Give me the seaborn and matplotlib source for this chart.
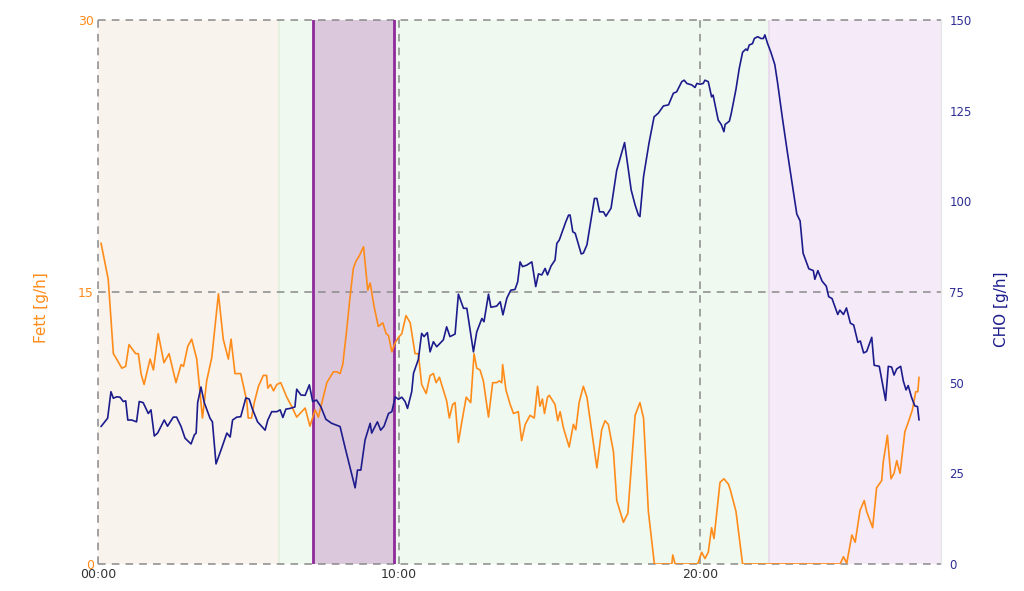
import matplotlib
matplotlib.use("Agg")
import matplotlib.pyplot as plt
import seaborn as sns

# time in hours since 00:00
fett_time = [0.1, 0.34, 0.51, 0.62, 0.79, 0.92, 1.03, 1.25, 1.34, 1.43, 1.53, 1.73, 1.84, 2.0,
             2.19, 2.36, 2.59, 2.76, 2.84, 2.98, 3.11, 3.28, 3.47, 3.61, 3.78, 4.0, 4.16, 4.33,
             4.42, 4.55, 4.74, 4.94, 4.99, 5.1, 5.19, 5.33, 5.49, 5.6, 5.64, 5.73, 5.83, 5.94,
             6.07, 6.27, 6.43, 6.6, 6.71, 6.88, 7.04, 7.21, 7.32, 7.6, 7.82, 7.93, 8.04, 8.13,
             8.26, 8.37, 8.48, 8.57, 8.68, 8.82, 8.96, 9.04, 9.17, 9.31, 9.46, 9.57, 9.65, 9.76,
             9.87, 9.98, 10.09, 10.23, 10.37, 10.53, 10.64, 10.75, 10.9, 11.03, 11.14, 11.23,
             11.34, 11.58, 11.67, 11.78, 11.86, 11.97, 12.08, 12.23, 12.38, 12.49, 12.58, 12.69,
             12.8, 12.97, 13.11, 13.24, 13.33, 13.41, 13.44, 13.55, 13.69, 13.8, 13.96, 14.07,
             14.19, 14.35, 14.49, 14.6, 14.68, 14.76, 14.83, 14.93, 14.99, 15.18, 15.27, 15.35,
             15.46, 15.65, 15.79, 15.87, 15.98, 16.12, 16.24, 16.57, 16.73, 16.84, 16.95, 17.12,
             17.23, 17.45, 17.6, 17.84, 18.0, 18.12, 18.28, 18.48, 19.06, 19.09, 19.17, 19.92,
             20.05, 20.16, 20.27, 20.38, 20.46, 20.66, 20.79, 20.94, 21.0, 21.19, 21.41, 24.65,
             24.76, 24.87, 25.04, 25.15, 25.31, 25.45, 25.53, 25.73, 25.86, 26.03, 26.08, 26.22,
             26.34, 26.44, 26.53, 26.64, 26.8, 26.91, 27.05, 27.16, 27.23, 27.27]
fett = [17.7, 15.7, 11.6, 11.3, 10.8, 10.9, 12.1, 11.6, 11.6, 10.5, 9.9, 11.3, 10.7, 12.7,
        11.1, 11.6, 10.0, 11.0, 10.9, 12.0, 12.4, 11.3, 8.05, 10.1, 11.4, 14.9, 12.4, 11.3,
        12.4, 10.5, 10.5, 9.0, 8.05, 8.05, 8.9, 9.8, 10.4, 10.4, 9.7, 9.9, 9.55, 9.9,
        10.0, 9.2, 8.7, 8.1, 8.3, 8.6, 7.6, 8.5, 8.1, 10.0, 10.6, 10.6, 10.5, 11.0,
        12.9, 14.7, 16.3, 16.7, 17.0, 17.5, 15.1, 15.5, 14.2, 13.1, 13.3, 12.7, 12.6, 11.7,
        12.2, 12.5, 12.7, 13.7, 13.3, 11.6, 11.6, 9.9, 9.4, 10.4, 10.5, 10.0,
        10.3, 9.0, 8.05, 8.8, 8.9, 6.7, 7.8, 9.2, 8.9, 11.6, 10.8, 10.7,
        10.1, 8.1, 10.0, 10.0, 10.1, 10.0, 11.0, 9.6, 8.8, 8.3, 8.4, 6.8,
        7.7, 8.2, 8.05, 9.8, 8.7, 9.1, 8.3, 9.2, 9.3, 8.8, 7.9, 8.4,
        7.5, 6.45, 7.7, 7.4, 8.9, 9.8, 9.2, 5.3, 7.4, 7.9, 7.7, 6.2,
        3.5, 2.3, 2.8, 8.2, 8.9, 8.05, 2.9, 0.0, 0.0, 0.5, 0.0, 0.0,
        0.65, 0.3, 0.65, 2.0, 1.4, 4.5, 4.7, 4.4, 4.1, 2.9, 0.0, 0.0,
        0.4, 0.05, 1.6, 1.2, 2.95, 3.5, 2.9, 2.0, 4.2, 4.6, 5.6, 7.1,
        4.7, 5.0, 5.7, 5.0, 7.3, 7.8, 8.5, 9.5, 9.5, 10.3]

cho_time = [0.1, 0.32, 0.43, 0.51, 0.62, 0.73, 0.84, 0.92, 0.99, 1.12, 1.28, 1.37, 1.5, 1.67,
            1.76, 1.87, 1.98, 2.2, 2.31, 2.5, 2.61, 2.76, 2.89, 3.09, 3.2, 3.26, 3.31, 3.42,
            3.53, 3.72, 3.8, 3.92, 4.11, 4.28, 4.39, 4.47, 4.61, 4.74, 4.91, 5.02, 5.13, 5.3,
            5.55, 5.64, 5.77, 5.94, 6.05, 6.14, 6.24, 6.38, 6.54, 6.6, 6.74, 6.88, 7.02, 7.13,
            7.26, 7.4, 7.57, 7.76, 8.04, 8.21, 8.54, 8.62, 8.73, 8.87, 9.04, 9.09, 9.28, 9.39,
            9.5, 9.65, 9.76, 9.87, 9.98, 10.09, 10.2, 10.28, 10.42, 10.48, 10.64, 10.75, 10.83,
            10.94, 11.03, 11.14, 11.25, 11.47, 11.58, 11.69, 11.86, 11.97, 12.14, 12.25, 12.47,
            12.58, 12.75, 12.82, 12.97, 13.05, 13.24, 13.36, 13.45, 13.58, 13.71, 13.85, 13.94,
            14.02, 14.1, 14.24, 14.41, 14.54, 14.63, 14.74, 14.85, 14.93, 15.05, 15.18, 15.24,
            15.32, 15.54, 15.63, 15.68, 15.77, 15.85, 16.05, 16.12, 16.24, 16.49, 16.57, 16.66,
            16.79, 16.87, 17.04, 17.23, 17.49, 17.71, 17.84, 17.95, 18.0, 18.12, 18.3, 18.47,
            18.61, 18.78, 18.95, 19.11, 19.22, 19.39, 19.47, 19.56, 19.72, 19.83, 19.89, 20.0,
            20.1, 20.16, 20.27, 20.38, 20.43, 20.6, 20.7, 20.79, 20.83, 20.97, 21.03, 21.19,
            21.3, 21.41, 21.52, 21.57, 21.63, 21.74, 21.8, 21.91, 22.02, 22.1, 22.15, 22.24,
            22.35, 22.48, 22.57, 22.73, 22.9, 23.06, 23.21, 23.32, 23.42, 23.61, 23.76, 23.81,
            23.91, 24.05, 24.19, 24.27, 24.38, 24.57, 24.64, 24.76, 24.86, 24.99, 25.1, 25.24,
            25.32, 25.43, 25.53, 25.7, 25.78, 25.95, 26.16, 26.25, 26.36, 26.44, 26.53, 26.66,
            26.75, 26.84, 26.91, 27.02, 27.13, 27.22, 27.27]
cho = [37.9, 40.2, 47.5, 45.7, 46.1, 46.0, 44.8, 45.0, 39.7, 39.7, 39.2, 44.8, 44.5, 41.5,
       42.5, 35.3, 36.1, 39.7, 38.0, 40.5, 40.5, 37.9, 34.7, 33.1, 35.6, 36.1, 44.5, 48.8,
       44.5, 40.2, 39.2, 27.6, 32.0, 36.1, 35.0, 39.7, 40.5, 40.6, 45.8, 45.5, 42.7, 39.2,
       36.9, 39.7, 42.0, 42.0, 42.5, 40.4, 42.7, 42.9, 43.3, 48.2, 46.6, 46.5, 49.4, 44.8,
       45.2, 43.4, 39.9, 38.8, 37.9, 32.0, 21.0, 25.9, 25.9, 34.2, 38.8, 36.1, 39.2, 36.9,
       38.0, 41.5, 42.0, 46.1, 45.4, 46.0, 44.8, 42.9, 47.5, 52.6, 56.4, 63.6, 62.7,
       63.8, 58.5, 61.3, 59.9, 61.8, 65.4, 62.7, 63.4, 74.4, 70.5, 70.5, 58.5,
       64.0, 67.7, 66.8, 74.4, 70.8, 71.1, 72.3, 68.7, 73.3, 75.5, 75.7, 77.8,
       83.3, 82.0, 82.4, 83.3, 76.5, 80.0, 79.7, 81.5, 79.7, 82.2, 83.8, 88.4,
       89.3, 94.4, 96.2, 96.2, 91.6, 91.2, 85.5, 85.7, 88.0, 100.8, 100.8, 97.1,
       97.1, 95.9, 98.1, 108.6, 116.2, 103.1, 99.0, 96.2, 95.8, 106.8, 116.0, 123.3,
       124.3, 126.3, 126.6, 129.8, 130.2, 133.0, 133.4, 132.5, 132.1, 131.4, 132.5, 132.3,
       132.5, 133.4, 133.0, 128.8, 129.3, 122.4, 121.2, 119.2, 121.2, 122.1, 124.1, 130.9,
       136.7, 141.1, 142.0, 141.6, 143.1, 143.5, 144.9, 145.4, 144.9, 144.9, 145.9, 143.5,
       141.1, 137.7, 132.8, 123.1, 113.4, 104.7, 96.5, 94.6, 85.7, 81.4, 80.9, 78.5,
       80.9, 78.0, 76.6, 73.7, 73.2, 68.8, 70.0, 68.8, 70.6, 66.4, 65.9, 61.1,
       61.5, 58.2, 58.6, 62.5, 54.8, 54.5, 45.1, 54.5, 54.3, 52.1, 53.8, 54.5,
       50.4, 48.0, 49.2, 46.0, 43.6, 43.4, 39.7]

# phases (start, end) in hours
phase_rest = (0.0, 6.02)
phase_day = (6.02, 22.3)
phase_meal = (7.15, 9.84)
phase_night = (22.3, 28.0)

x_ticks = [0, 10, 20]
x_tick_labels = ["00:00", "10:00", "20:00"]
fett_ticks = [0, 15, 30]
cho_ticks = [0, 25, 50, 75, 100, 125, 150]

ORANGE = "#ff8c1a"
NAVY = "#1c1c8c"

sns.set_theme(style="white")
plt.rcParams["font.family"] = ["DejaVu Sans"]

fig = plt.figure(figsize=(10.24, 5.91), dpi=100)
ax = fig.add_axes([98 / 1024, 27 / 591, 843 / 1024, 544 / 591])

ax.axvspan(*phase_rest, color="#f8f3ed", zorder=0, lw=0)
ax.axvspan(*phase_day, color="#f0f9f0", zorder=0, lw=0)
ax.axvspan(*phase_night, color="#f5eaf7", zorder=0, lw=0)
ax.axvspan(*phase_meal, color="#dcc8dc", zorder=0.2, lw=0)
ax.axvline(phase_day[0], color="#e2efdd", lw=1.2, zorder=0.3)
ax.axvline(phase_night[0], color="#e9dcec", lw=1.5, zorder=0.3)
for xm in phase_meal:
    ax.axvline(xm, color="#8f2a9b", lw=2.0, zorder=3)

sns.lineplot(x=fett_time, y=fett, ax=ax, color=ORANGE, lw=1.2, zorder=4)

ax.set_xlim(0, 28)
ax.set_ylim(0, 30)
ax.set_xticks(x_ticks)
ax.set_xticklabels(x_tick_labels, color="#333333", fontsize=9)
ax.set_yticks(fett_ticks)
ax.set_yticklabels([str(t) for t in fett_ticks], color=ORANGE, fontsize=9)
ax.tick_params(length=0, pad=3)
ax.set_ylabel("Fett [g/h]", color=ORANGE, fontsize=11)
ax.yaxis.set_label_coords(-0.058, 0.472)
ax.set_xlabel("Zeit", fontsize=11, color="#333333", labelpad=8)
ax.grid(True, linestyle=(0, (5, 4)), color="#8a8a8a", lw=1.1)
ax.set_axisbelow(True)
for gl in ax.get_xgridlines() + ax.get_ygridlines():
    gl.set_clip_on(False)
    gl.set_zorder(1)
for s in ax.spines.values():
    s.set_visible(False)

ax2 = ax.twinx()
sns.lineplot(x=cho_time, y=cho, ax=ax2, color=NAVY, lw=1.2, zorder=4)
ax2.set_ylim(0, 150)
ax2.set_yticks(cho_ticks)
ax2.set_yticklabels([str(t) for t in cho_ticks], color="#2d2d96", fontsize=8.5)
ax2.tick_params(length=0, pad=6)
ax2.set_ylabel("CHO [g/h]", color=NAVY, fontsize=11)
ax2.yaxis.set_label_coords(1.063, 0.469)
ax2.grid(False)
for s in ax2.spines.values():
    s.set_visible(False)
ax2.spines["right"].set_visible(True)
ax2.spines["right"].set_color("#e6e6e6")
ax2.spines["right"].set_linewidth(1)

fig.savefig("out.png", dpi=100)
